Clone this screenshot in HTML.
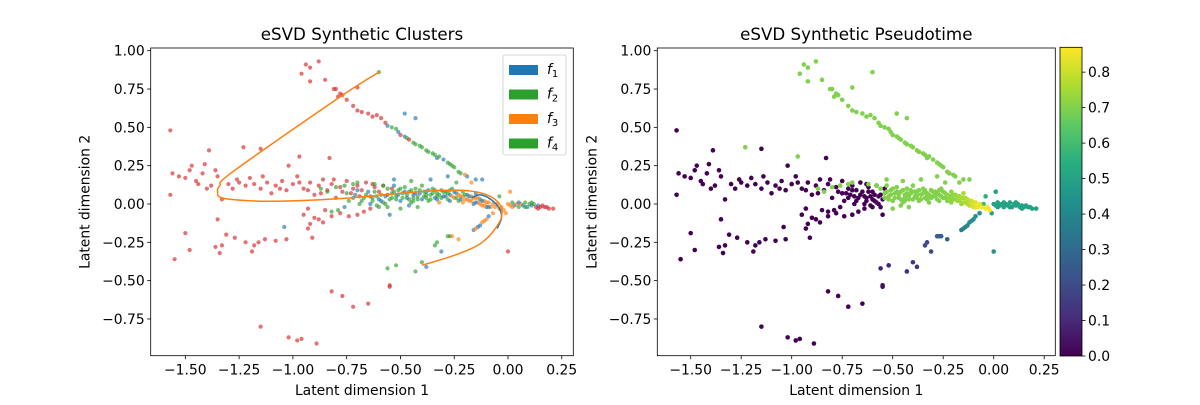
<!DOCTYPE html>
<html><head><meta charset="utf-8"><style>
body{margin:0;background:#fff;}
svg text{font-family:"DejaVu Sans","Liberation Sans",sans-serif;fill:#000;}
</style></head><body>
<svg id="fig" width="1200" height="400" xmlns="http://www.w3.org/2000/svg">
<rect width="1200" height="400" fill="#fff"/>
</svg>
<script>
// ---- data: [x, y, cluster(0 blue,1 orange,2 green,3 red), pseudotime]
const leftCloud=[[-1.57,0.48,3,0],[-1.56,0.20,3,0],[-1.53,0.18,3,0],[-1.57,0.06,3,0],[-1.50,0.17,3,0],[-1.48,0.22,3,0],[-1.47,0.25,3,0],[-1.45,0.15,3,0],[-1.42,0.20,3,0],[-1.40,0.10,3,0],[-1.38,0.12,3,0],[-1.35,0.18,3,0],[-1.41,0.26,3,0],[-1.36,0.22,3,0],[-1.39,0.35,3,0],[-1.33,0.03,3,0],[-1.30,0.13,3,0],[-1.28,0.10,3,0],[-1.25,0.14,3,0],[-1.22,0.12,3,0],[-1.20,0.17,3,0],[-1.18,0.13,3,0],[-1.15,0.10,3,0],[-1.12,0.14,3,0],[-1.10,0.07,3,0],[-1.08,0.12,3,0],[-1.05,0.15,3,0],[-1.03,0.09,3,0],[-1.00,0.13,3,0],[-0.98,0.18,3,0],[-0.95,0.10,3,0],[-0.92,0.14,3,0],[-0.90,0.06,3,0],[-0.88,0.12,3,0],[-0.86,0.16,3,0],[-0.84,0.09,3,0],[-0.82,0.13,3,0],[-0.80,0.04,3,0],[-0.78,0.11,3,0],[-0.75,0.15,3,0],[-0.73,0.07,3,0],[-0.70,0.12,3,0],[-0.68,0.09,3,0],[-0.66,0.14,3,0],[-0.64,0.05,3,0],[-0.62,0.11,3,0],[-0.60,0.08,3,0],[-0.58,0.12,3,0],[-0.56,0.06,3,0],[-0.54,0.10,3,0],[-1.15,0.36,3,0],[-1.02,0.25,3,0],[-0.83,0.30,3,0],[-1.35,-0.10,3,0],[-1.50,-0.19,3,0],[-1.55,-0.36,3,0],[-1.48,-0.30,3,0],[-1.34,-0.32,3,0],[-1.33,-0.27,3,0],[-1.27,-0.22,3,0],[-1.22,-0.25,3,0],[-1.16,-0.25,3,0],[-1.13,-0.23,3,0],[-1.18,-0.27,3,0],[-1.19,-0.31,3,0],[-1.31,-0.20,3,0],[-1.08,-0.24,3,0],[-0.91,-0.22,3,0],[-0.93,-0.16,3,0],[-1.36,-0.28,3,0],[-1.03,-0.23,3,0],[-0.95,-0.07,3,0],[-0.92,-0.13,3,0],[-0.88,-0.10,3,0],[-0.85,-0.04,3,0],[-0.82,-0.08,3,0],[-0.78,-0.06,3,0],[-0.74,-0.08,3,0],[-0.70,-0.07,3,0],[-0.67,-0.05,3,0],[-0.64,-0.03,3,0],[-1.04,-0.15,0,0],[-1.44,0.13,3,0],[-1.26,0.16,3,0],[-1.14,0.18,3,0],[-1.06,0.10,3,0],[-0.97,0.14,3,0],[-0.93,0.09,3,0],[-0.87,0.07,3,0],[-0.81,0.16,3,0],[-0.77,0.08,3,0],[-0.72,0.10,3,0],[-0.69,0.05,3,0],[-0.63,0.13,3,0],[-0.93,-0.03,3,0],[-0.90,-0.09,3,0],[-0.86,-0.12,3,0]];
const bottomScatter=[[-1.15,-0.80,3,0],[-1.02,-0.87,3,0],[-0.98,-0.89,3,0],[-0.96,-0.88,3,0],[-0.89,-0.91,3,0],[-0.82,-0.57,3,0],[-0.77,-0.60,3,0],[-0.72,-0.67,3,0],[-0.65,-0.65,3,0],[-0.55,-0.54,3,0.03],[-0.55,-0.53,3,0.03],[-0.56,-0.42,2,0.08],[-0.52,-0.40,2,0.08]];
const upperArm=[[-0.94,0.91,3,0.7],[-0.92,0.89,3,0.7],[-0.88,0.93,3,0.7],[-0.96,0.85,3,0.7],[-0.92,0.80,3,0.7],[-0.85,0.81,3,0.7],[-0.81,0.75,3,0.7],[-0.80,0.75,3,0.7],[-0.78,0.72,3,0.7],[-0.77,0.71,3,0.7],[-0.75,0.68,3,0.7],[-0.72,0.64,3,0.7],[-0.70,0.76,3,0.7],[-0.70,0.61,3,0.7],[-0.65,0.59,3,0.7],[-0.63,0.57,3,0.7],[-0.59,0.56,3,0.7],[-0.56,0.51,0,0.7],[-0.54,0.50,2,0.7],[-0.52,0.49,2,0.7],[-0.50,0.45,3,0.7],[-0.48,0.44,0,0.7],[-0.47,0.43,2,0.7],[-0.44,0.40,2,0.7],[-0.41,0.38,2,0.7],[-0.38,0.35,2,0.7],[-0.35,0.33,2,0.7],[-0.33,0.30,0,0.7],[-0.32,0.31,2,0.7],[-0.28,0.27,2,0.7],[-0.27,0.26,2,0.7],[-0.25,0.24,2,0.7],[-0.23,0.21,2,0.7],[-0.19,0.18,0,0.7],[-0.15,0.16,0,0.7],[-0.12,0.16,0,0.7],[-0.17,0.14,1,0.7],[-0.48,0.59,0,0.7],[-0.43,0.56,0,0.7],[-0.60,0.86,2,0.7],[-1.23,0.37,3,0.7],[-0.97,0.31,3,0.7],[-0.79,0.70,3,0.7],[-0.68,0.60,3,0.7],[-0.61,0.58,3,0.7],[-0.57,0.53,3,0.7],[-0.51,0.47,0,0.7],[-0.46,0.42,3,0.7],[-0.43,0.39,2,0.7],[-0.40,0.37,2,0.7],[-0.37,0.34,2,0.7],[-0.34,0.32,2,0.7],[-0.30,0.29,0,0.7],[-0.26,0.25,2,0.7],[-0.22,0.20,2,0.7],[-0.20,0.19,1,0.7]];
const band=[[-0.75,0.07,2,0],[-0.72,0.04,2,0],[-0.70,0.09,0,0],[-0.68,0.02,2,0],[-0.66,0.06,2,0],[-0.64,0.00,0,0],[-0.63,0.04,2,0],[-0.62,0.08,2,0],[-0.61,-0.01,2,0],[-0.60,0.03,0,0],[-0.59,0.06,2,0],[-0.58,0.01,2,0.02],[-0.57,0.05,0,0.02],[-0.56,-0.02,2,0.02],[-0.55,0.03,2,0.02],[-0.56,0.10,2,0.7],[-0.54,0.07,2,0.7],[-0.53,0.12,0,0.7],[-0.52,0.05,2,0.7],[-0.51,0.09,2,0.7],[-0.50,0.02,0,0.7],[-0.49,0.07,2,0.7],[-0.48,0.11,2,0.7],[-0.47,0.04,0,0.7],[-0.46,0.08,2,0.7],[-0.45,0.01,2,0.7],[-0.44,0.06,0,0.7],[-0.43,0.10,2,0.7],[-0.42,0.03,2,0.7],[-0.41,0.07,0,0.7],[-0.40,0.12,2,0.7],[-0.39,0.05,2,0.7],[-0.38,0.08,0,0.7],[-0.37,0.02,2,0.7],[-0.36,0.06,2,0.7],[-0.35,0.10,2,0.7],[-0.34,0.04,0,0.7],[-0.33,0.07,2,0.7],[-0.32,0.01,1,0.7],[-0.31,0.09,2,0.7],[-0.30,0.05,0,0.7],[-0.29,0.08,2,0.7],[-0.28,0.03,2,0.7],[-0.27,0.06,0,0.7],[-0.26,0.10,2,0.7],[-0.25,0.04,1,0.7],[-0.24,0.07,0,0.7],[-0.23,0.02,2,0.7],[-0.22,0.05,1,0.72],[-0.21,0.08,2,0.72],[-0.20,0.03,1,0.72],[-0.19,0.06,0,0.72],[-0.18,0.02,1,0.74],[-0.17,0.05,1,0.74],[-0.16,0.00,0,0.74],[-0.15,0.04,1,0.75],[-0.14,0.01,1,0.76],[-0.13,0.03,0,0.77],[-0.12,-0.01,1,0.78],[-0.11,0.02,1,0.8],[-0.10,-0.02,0,0.82],[-0.09,0.01,1,0.83],[-0.08,-0.02,1,0.85],[-0.58,0.12,2,0.7],[-0.62,0.13,2,0.7],[-0.72,0.13,2,0.7],[-0.87,0.10,2,0.7],[-0.84,0.08,2,0.7],[-0.80,0.11,2,0.7],[-0.76,0.12,2,0.7],[-0.70,0.14,2,0.7],[-0.82,-0.05,2,0],[-0.79,-0.04,2,0],[-0.76,-0.02,0,0],[-0.55,-0.07,0,0],[-0.50,-0.03,2,0.7],[-0.46,-0.01,0,0.7],[-0.42,-0.02,2,0.7],[-0.53,0.16,0,0.7],[-0.45,0.15,2,0.7],[-0.36,0.16,0,0.7],[-0.28,0.18,0,0.7],[-0.24,0.14,2,0.7],[-0.52,0.03,2,0.7],[-0.44,0.02,2,0.7],[-0.38,0.04,2,0.7],[-0.33,0.05,2,0.7],[-0.27,0.02,0,0.7],[-0.21,0.01,1,0.72],[-0.15,0.07,0,0.75]];
const bandExtra=[[-0.74,0.02,2,0],[-0.71,0.06,0,0],[-0.69,0.00,2,0],[-0.67,0.04,2,0],[-0.65,0.08,0,0],[-0.63,0.02,2,0],[-0.61,0.05,2,0],[-0.60,-0.02,2,0],[-0.59,0.02,0,0],[-0.57,0.00,2,0],[-0.54,0.04,2,0.7],[-0.53,0.08,2,0.7],[-0.51,0.06,0,0.7],[-0.50,0.10,2,0.7],[-0.49,0.04,2,0.7],[-0.48,0.08,0,0.7],[-0.47,0.06,2,0.7],[-0.46,0.03,2,0.7],[-0.45,0.09,2,0.7],[-0.44,0.04,2,0.7],[-0.43,0.07,0,0.7],[-0.42,0.05,2,0.7],[-0.41,0.09,2,0.7],[-0.40,0.03,0,0.7],[-0.39,0.08,2,0.7],[-0.38,0.06,2,0.7],[-0.37,0.09,0,0.7],[-0.36,0.03,2,0.7],[-0.35,0.07,2,0.7],[-0.34,0.09,2,0.7],[-0.33,0.03,0,0.7],[-0.32,0.06,2,0.7],[-0.31,0.04,2,0.7],[-0.30,0.08,2,0.7],[-0.29,0.05,0,0.7],[-0.28,0.07,2,0.7],[-0.27,0.09,2,0.7],[-0.26,0.05,1,0.7],[-0.25,0.08,0,0.7],[-0.24,0.04,2,0.7],[-0.23,0.06,1,0.72],[-0.22,0.03,0,0.72],[-0.21,0.05,1,0.72],[-0.20,0.06,2,0.72],[-0.19,0.03,1,0.73],[-0.18,0.05,0,0.74],[-0.17,0.02,1,0.74],[-0.16,0.04,1,0.75],[-0.15,0.01,0,0.75],[-0.14,0.04,1,0.76],[-0.13,0.00,1,0.77],[-0.12,0.02,0,0.78],[-0.11,-0.01,1,0.8],[-0.10,0.01,1,0.82],[-0.09,-0.02,0,0.83],[-0.07,0.00,1,0.85],[-0.06,-0.02,1,0.86]];
const lowerArm=[[-0.38,-0.41,0,0.13],[-0.43,-0.44,2,0.12],[-0.40,-0.38,2,0.13],[-0.34,-0.27,2,0.2],[-0.33,-0.25,2,0.2],[-0.31,-0.31,0,0.18],[-0.28,-0.21,2,0.26],[-0.27,-0.21,2,0.26],[-0.26,-0.21,1,0.26],[-0.23,-0.23,1,0.27],[-0.16,-0.17,0,0.38],[-0.14,-0.15,0,0.4],[-0.12,-0.12,1,0.42],[-0.10,-0.10,1,0.43],[-0.07,-0.06,1,0.45],[-0.13,-0.14,0,0.41],[-0.15,-0.16,1,0.39],[-0.11,-0.11,1,0.43],[-0.09,-0.08,0,0.44]];
const tail=[[-0.05,0.00,1,0.6],[-0.03,-0.02,1,0.86],[-0.02,-0.04,1,0.86],[-0.04,-0.03,1,0.86],[0.00,0.00,1,0.5],[0.01,-0.01,1,0.5],[0.02,0.01,2,0.5],[0.03,-0.01,0,0.5],[0.04,0.00,1,0.5],[0.05,-0.02,2,0.5],[0.06,0.00,1,0.5],[0.07,-0.01,0,0.5],[0.08,0.01,2,0.5],[0.09,-0.02,0,0.5],[0.10,0.00,2,0.5],[0.11,-0.01,0,0.5],[0.12,0.00,2,0.5],[0.13,-0.02,3,0.5],[0.14,-0.01,0,0.5],[0.15,-0.02,3,0.5],[0.16,-0.01,3,0.5],[0.17,-0.02,3,0.5],[0.18,-0.02,3,0.5],[0.19,-0.03,3,0.5],[0.21,-0.03,3,0.5],[0.01,0.08,1,0.5],[-0.01,-0.06,1,0.5],[0.00,-0.31,3,0.45],[-0.04,0.05,2,0.55],[0.02,-0.02,1,0.5],[0.05,0.01,0,0.5],[0.08,-0.02,2,0.5],[0.11,0.01,2,0.5],[0.14,-0.03,3,0.5]];
const curveF3X=[-0.60,-0.79,-1.28,-1.34,-1.35,-1.33,-1.19,-1.00,-0.73,-0.42,-0.22,-0.12,-0.06,-0.03,-0.04,-0.12,-0.24,-0.40];
const curveF3Y=[0.86,0.69,0.21,0.12,0.08,0.04,0.02,0.02,0.04,0.08,0.09,0.07,0.03,-0.03,-0.12,-0.25,-0.33,-0.40];
const curveF1X=[-0.17,-0.13,-0.08,-0.04,-0.03,-0.05];
const curveF1Y=[0.04,0.06,0.03,-0.03,-0.09,-0.16];
const xTicks=[-1.5,-1.25,-1.0,-0.75,-0.5,-0.25,0,0.25];
const yTicks=[-0.75,-0.5,-0.25,0,0.25,0.5,0.75,1.0];
const cbTicks=[0,0.1,0.2,0.3,0.4,0.5,0.6,0.7,0.8];
const legendLabels=["1","2","3","4"];

const NS="http://www.w3.org/2000/svg";
const svg=document.getElementById('fig');
function mk(tag,attrs,parent){const e=document.createElementNS(NS,tag);for(const k in attrs)e.setAttribute(k,attrs[k]);(parent||svg).appendChild(e);return e;}
const tab=['#1f77b4','#ff7f0e','#2ca02c','#d62728'];
const vstops=['#440154','#472d7b','#3b528b','#2c728e','#21918c','#28ae80','#5ec962','#addc30','#fde725'];
const VMAX=0.87;
const FS=13.9;
function hex(c){return [1,3,5].map(i=>parseInt(c.substr(i,2),16));}
function viridis(t){let f=Math.max(0,Math.min(1,t/VMAX))*8;const i=Math.min(7,Math.floor(f));const r=f-i;const a=hex(vstops[i]),b=hex(vstops[i+1]);return 'rgb('+a.map((v,k)=>Math.round(v+(b[k]-v)*r)).join(',')+')';}
const pts=[].concat(leftCloud,bottomScatter,upperArm,band,bandExtra,lowerArm,tail);
const Y0=204,YS=153.3;
function fmt(v){return (v<0?'\u2212':'')+Math.abs(v).toFixed(2);}

function axes(name,L,R,T,B,x0,xs,title){
  const g=mk('g',{});
  
  
  const X=v=>x0+v*xs, Y=v=>Y0-v*YS;
  return {g,X,Y,L,R,T,B,title};
}
function frame(a,prefix){
  const {g,X,Y,L,R,T,B}=a;
  const fr=mk('rect',{x:L,y:T,width:R-L,height:B-T,fill:'none',stroke:'#000','stroke-width':0.8},g);
  
  
  xTicks.forEach(v=>{const x=X(v);mk('line',{x1:x,x2:x,y1:B,y2:B+3.5,stroke:'#000','stroke-width':0.8},g);
    const t=mk('text',{x:x,y:B+19,'text-anchor':'middle','font-size':FS},g);t.textContent=fmt(v);
    });
  yTicks.forEach(v=>{const y=Y(v);mk('line',{x1:L,x2:L-3.5,y1:y,y2:y,stroke:'#000','stroke-width':0.8},g);
    const t=mk('text',{x:L-6,y:y+5,'text-anchor':'end','font-size':FS},g);t.textContent=fmt(v);
    });
  const xt=mk('text',{x:(L+R)/2,y:395,'text-anchor':'middle','font-size':FS},g);xt.textContent='Latent dimension 1';
  
  const cy=(T+B)/2, yx=L-61;
  const yt=mk('text',{x:yx,y:cy,'text-anchor':'middle','font-size':FS,transform:'rotate(-90 '+yx+' '+cy+')'},g);yt.textContent='Latent dimension 2';
  
  const tt=mk('text',{x:(L+R)/2,y:T-8,'text-anchor':'middle','font-size':16.7},g);tt.textContent=a.title;
  
}
// left
const A=axes('clusters-plot',150.7,573.3,48,355.7,508,215.1,'eSVD Synthetic Clusters');
const clip1=mk('clipPath',{id:'c1'});mk('rect',{x:A.L,y:A.T,width:A.R-A.L,height:A.B-A.T},clip1);
const pg=mk('g',{'clip-path':'url(#c1)'},A.g);
pts.forEach(p=>{const c=mk('circle',{cx:A.X(p[0]),cy:A.Y(p[1]),r:2.1,fill:tab[p[2]],'fill-opacity':0.65},pg);
  
  });
function smoothPath(P){let d='M'+P[0][0].toFixed(1)+','+P[0][1].toFixed(1);
  for(let i=0;i<P.length-1;i++){const p0=P[Math.max(0,i-1)],p1=P[i],p2=P[i+1],p3=P[Math.min(P.length-1,i+2)];
    const c1=[p1[0]+(p2[0]-p0[0])/6,p1[1]+(p2[1]-p0[1])/6],c2=[p2[0]-(p3[0]-p1[0])/6,p2[1]-(p3[1]-p1[1])/6];
    d+=' C'+c1.map(v=>v.toFixed(1)).join(',')+' '+c2.map(v=>v.toFixed(1)).join(',')+' '+p2.map(v=>v.toFixed(1)).join(',');}
  return d;}
function curve(xs,ys,col,name){const P=xs.map((v,i)=>[A.X(v),A.Y(ys[i])]);
  const p=mk('path',{d:smoothPath(P),fill:'none',stroke:col,'stroke-width':1.5,'stroke-linejoin':'round'},pg);
  }
curve(curveF1X,curveF1Y,tab[0],'curve-f1');
curve(curveF3X,curveF3Y,tab[1],'curve-f3');
frame(A,'left');
// legend
const lg=mk('g',{},A.g);


mk('rect',{x:503,y:55,width:63,height:100,rx:2,fill:'#fff','fill-opacity':0.8,stroke:'#ccc','stroke-width':0.8},lg);
const legCols=[tab[0],tab[2],tab[1],tab[2]];
legendLabels.forEach((s,i)=>{const y=62+i*24.5;
  const r=mk('rect',{x:509,y:y+3,width:29,height:10,fill:legCols[i]},lg);
  
  const t=mk('text',{x:547,y:y+12,'font-size':FS,'font-style':'italic'},lg);
  
  t.appendChild(document.createTextNode('f'));
  const sub=mk('tspan',{'font-size':10,'font-style':'normal',dy:3},t);sub.textContent=s;});
// right
const B2=axes('pseudotime-plot',657.3,1055.3,48,355.7,993.7,202,'eSVD Synthetic Pseudotime');
const clip2=mk('clipPath',{id:'c2'});mk('rect',{x:B2.L,y:B2.T,width:B2.R-B2.L,height:B2.B-B2.T},clip2);
const pg2=mk('g',{'clip-path':'url(#c2)'},B2.g);
[...pts].sort((a,b)=>a[3]-b[3]).forEach(p=>{const c=mk('circle',{cx:B2.X(p[0]),cy:B2.Y(p[1]),r:2.3,fill:viridis(p[3])},pg2);
  
  });
frame(B2,'right');
// colorbar
const cb=mk('g',{});


const defs=mk('defs',{});const gr=mk('linearGradient',{id:'vir',x1:0,y1:1,x2:0,y2:0},defs);
vstops.forEach((c,i)=>mk('stop',{offset:i/8,'stop-color':c},gr));
const cbT=47.3,cbB=356,cbL=1060,cbR=1082;
mk('rect',{x:cbL,y:cbT,width:cbR-cbL,height:cbB-cbT,fill:'url(#vir)',stroke:'#000','stroke-width':0.8},cb);
cbTicks.forEach(v=>{const y=cbB-v/VMAX*(cbB-cbT);mk('line',{x1:cbR,x2:cbR+3.5,y1:y,y2:y,stroke:'#000','stroke-width':0.8},cb);
  const t=mk('text',{x:cbR+6,y:y+5,'font-size':FS},cb);t.textContent=v.toFixed(1);
  });
</script>
</body></html>
